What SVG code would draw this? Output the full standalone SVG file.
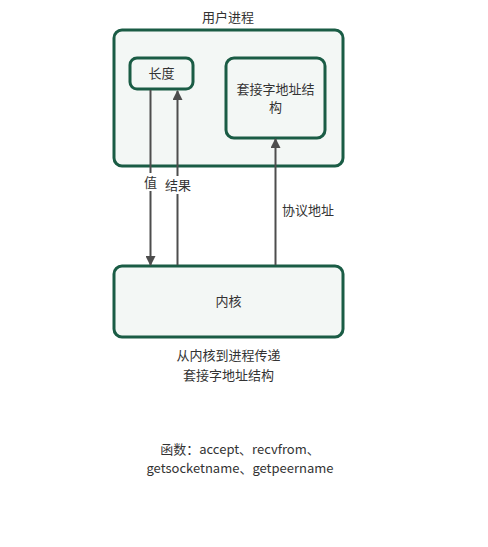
<svg xmlns="http://www.w3.org/2000/svg" width="488" height="547" viewBox="0 0 488 547">
  <style>
    .box { fill: #f3f7f5; stroke: #1a5c45; stroke-width: 3; }
    .t { font-family: "Microsoft YaHei", "Noto Sans CJK SC", "Liberation Sans", sans-serif; font-size: 13px; fill: #333333; text-anchor: middle; }
    .edge { stroke: #4d4d4d; stroke-width: 2; fill: none; }
    .lbl-bg { fill: #ffffff; }
  </style>
  <defs>
    <marker id="arrow" viewBox="0 0 10 10" refX="9" refY="5" markerWidth="5" markerHeight="5" orient="auto">
      <path d="M0,0 L10,5 L0,10 z" fill="#4d4d4d"/>
    </marker>
  </defs>
  <rect width="488" height="547" fill="#ffffff"/>

  <g id="user-process">
    <rect class="box" x="114" y="30" width="229" height="136" rx="8"/>
    <text class="t" x="228" y="22">用户进程</text>
  </g>
  <g id="length">
    <rect class="box" x="130" y="58" width="63" height="31" rx="7"/>
    <text class="t" x="161.5" y="78">长度</text>
  </g>
  <g id="sockaddr">
    <rect class="box" x="226" y="58" width="99" height="80" rx="8"/>
    <text class="t" x="275.5" y="94">套接字地址结</text>
    <text class="t" x="275.5" y="112">构</text>
  </g>
  <g id="kernel">
    <rect class="box" x="114" y="266" width="229" height="71" rx="8"/>
    <text class="t" x="228.5" y="306">内核</text>
    <text class="t" x="228.5" y="360">从内核到进程传递</text>
    <text class="t" x="228.5" y="380">套接字地址结构</text>
  </g>
  <g id="functions">
    <text class="t" x="240" y="454">函数：accept、recvfrom、</text>
    <text class="t" x="240" y="473">getsocketname、getpeername</text>
  </g>

  <g id="edges">
    <line class="edge" x1="150.5" y1="90" x2="150.5" y2="265" marker-end="url(#arrow)"/>
    <line class="edge" x1="177.5" y1="265" x2="177.5" y2="91" marker-end="url(#arrow)"/>
    <line class="edge" x1="275.5" y1="265" x2="275.5" y2="139" marker-end="url(#arrow)"/>
    <rect class="lbl-bg" x="142" y="173" width="17" height="18"/>
    <text class="t" x="150.5" y="187">值</text>
    <rect class="lbl-bg" x="164" y="176" width="28" height="18"/>
    <text class="t" x="178" y="190">结果</text>
    <rect class="lbl-bg" x="280" y="202" width="56" height="18"/>
    <text class="t" x="308" y="215">协议地址</text>
  </g>
</svg>
